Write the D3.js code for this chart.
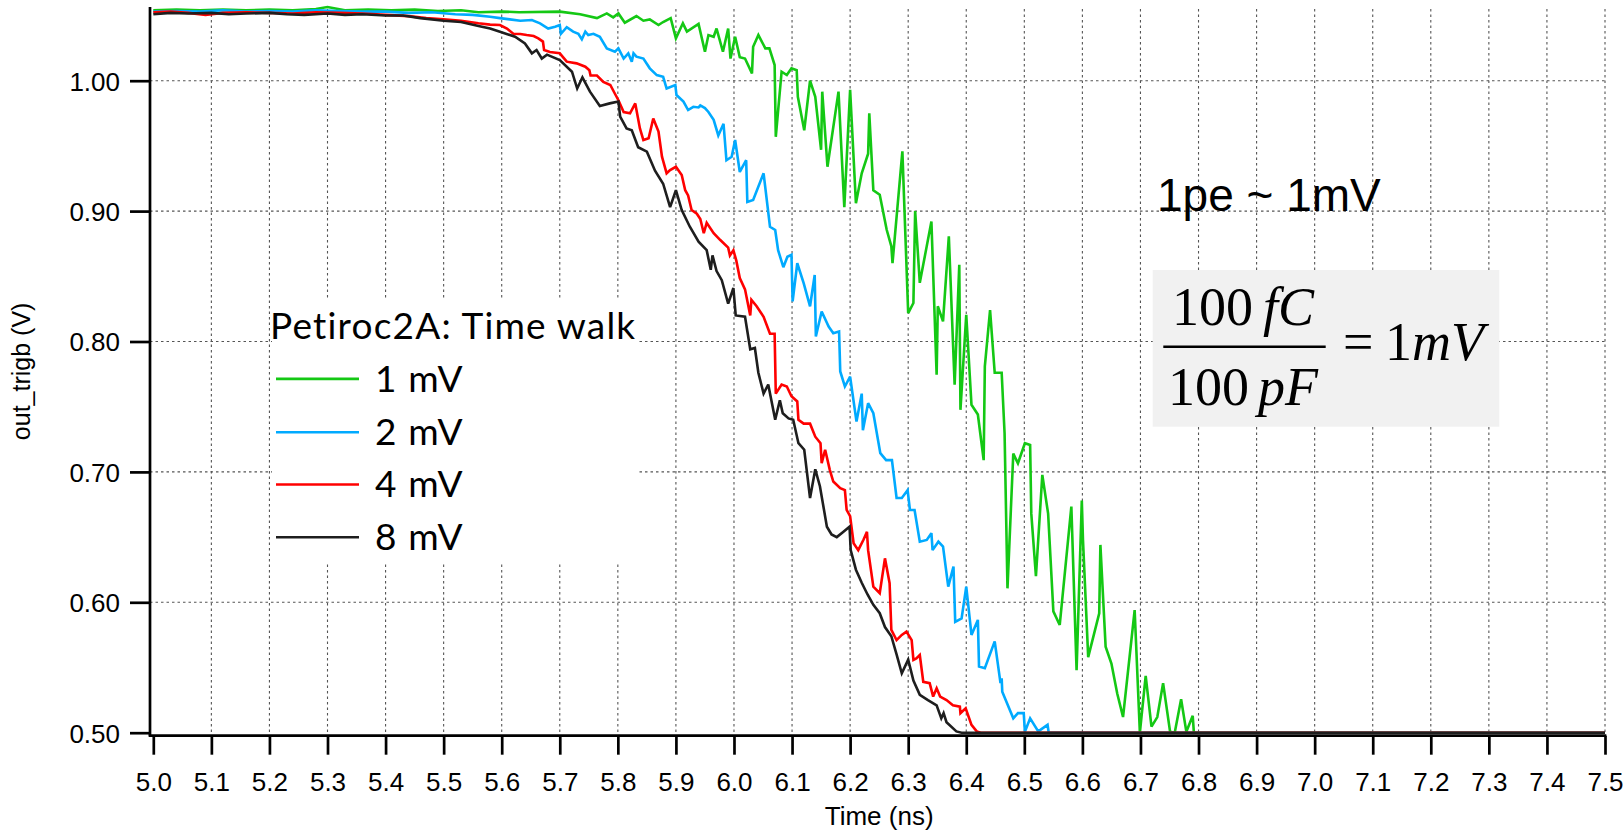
<!DOCTYPE html>
<html>
<head>
<meta charset="utf-8">
<script src="https://cdn.jsdelivr.net/npm/d3@7"></script>
<style>
  html, body { margin: 0; padding: 0; background: #fff; }
  svg { display: block; }
</style>
</head>
<body>
<script>
// ---------------- data ----------------
const seriesNames  = ["1 mV", "2 mV", "4 mV", "8 mV"];
const seriesColors = ["#14c814", "#00aaff", "#ff0000", "#1e1e1e"];
const legendTitle  = "Petiroc2A: Time walk";
const xTickValues  = [5.0, 5.1, 5.2, 5.3, 5.4, 5.5, 5.6, 5.7, 5.8, 5.9, 6.0, 6.1, 6.2,
                      6.3, 6.4, 6.5, 6.6, 6.7, 6.8, 6.9, 7.0, 7.1, 7.2, 7.3, 7.4, 7.5];
const yTickValues  = [0.50, 0.60, 0.70, 0.80, 0.90, 1.00];
const xAxisTitle   = "Time (ns)";
const yAxisTitle   = "out_trigb (V)";

// 1 mV input
const time1mV = [5.00,5.04,5.08,5.12,5.16,5.20,5.24,5.28,5.30,5.33,5.37,5.41,5.45,5.49,5.53,5.56,5.60,5.63,5.70,5.735,
  5.764,5.781,5.792,5.801,5.812,5.832,5.844,5.855,5.870,5.878,5.891,5.900,5.912,5.919,5.939,5.950,5.956,5.965,5.970,5.981,
  5.990,5.994,6.002,6.010,6.019,6.031,6.033,6.042,6.054,6.061,6.070,6.072,6.082,6.091,6.099,6.108,6.110,6.121,6.131,6.140,
  6.150,6.152,6.161,6.180,6.190,6.200,6.210,6.220,6.231,6.233,6.240,6.251,6.263,6.271,6.273,6.290,6.300,6.309,6.312,6.320,
  6.340,6.349,6.351,6.360,6.370,6.380,6.388,6.390,6.400,6.409,6.420,6.430,6.432,6.441,6.449,6.461,6.466,6.471,6.481,6.489,
  6.501,6.510,6.512,6.520,6.531,6.541,6.550,6.561,6.581,6.590,6.599,6.601,6.610,6.629,6.631,6.640,6.650,6.660,6.670,6.690,
  6.699,6.709,6.719,6.729,6.739,6.751,6.759,6.770,6.779,6.790,6.792,7.50];
const volt1mV = [1.054,1.0545,1.054,1.0545,1.054,1.0545,1.054,1.055,1.0565,1.054,1.0545,1.054,1.0545,1.0535,1.054,1.0525,1.053,1.0525,1.053,1.051,
  1.048,1.0516,1.0486,1.0516,1.0445,1.0496,1.046,1.047,1.0427,1.045,1.048,1.0325,1.044,1.0376,1.0435,1.0222,1.035,1.0337,1.040,1.0222,
  1.040,1.017,1.0337,1.018,1.017,1.0056,1.026,1.035,1.0248,1.0248,1.012,0.957,1.0069,1.0043,1.0095,1.008,0.9877,0.962,1.000,0.9877,
  0.947,0.9916,0.934,0.9916,0.903,0.993,0.906,0.929,0.944,0.975,0.916,0.9125,0.8857,0.873,0.860,0.9458,0.8218,0.8295,0.900,0.845,
  0.892,0.7745,0.827,0.8154,0.8806,0.7668,0.8588,0.7476,0.8205,0.7515,0.744,0.709,0.781,0.824,0.776,0.776,0.7296,0.6107,0.714,0.7066,
  0.722,0.7207,0.668,0.620,0.6977,0.668,0.593,0.5826,0.6734,0.548,0.678,0.648,0.558,0.5916,0.644,0.566,0.553,0.530,0.512,0.594,
  0.500,0.5435,0.5047,0.512,0.538,0.5008,0.500,0.5256,0.5008,0.513,0.500,0.500];

// 2 mV input
const time2mV = [5.00,5.04,5.08,5.12,5.16,5.20,5.24,5.28,5.32,5.36,5.40,5.44,5.48,5.52,5.55,5.58,5.597,5.614,5.632,5.652,
  5.666,5.680,5.692,5.700,5.702,5.712,5.723,5.732,5.738,5.744,5.749,5.758,5.769,5.781,5.795,5.801,5.810,5.818,5.824,5.827,
  5.832,5.844,5.855,5.867,5.878,5.884,5.899,5.901,5.913,5.921,5.930,5.939,5.942,5.950,5.956,5.965,5.973,5.982,5.987,5.996,
  6.002,6.010,6.021,6.023,6.033,6.051,6.062,6.071,6.076,6.085,6.092,6.099,6.101,6.109,6.120,6.131,6.139,6.141,6.151,6.163,
  6.171,6.181,6.183,6.191,6.200,6.211,6.220,6.222,6.231,6.240,6.252,6.262,6.272,6.280,6.289,6.299,6.303,6.311,6.320,6.332,
  6.340,6.342,6.352,6.360,6.369,6.378,6.381,6.392,6.400,6.409,6.420,6.422,6.432,6.449,6.459,6.461,6.462,6.481,6.489,6.499,
  6.501,6.510,6.524,6.540,6.542,7.50];
const volt2mV = [1.053,1.0535,1.053,1.054,1.053,1.0535,1.053,1.054,1.0535,1.053,1.053,1.052,1.0525,1.051,1.0505,1.049,1.048,1.047,1.046,1.0465,
  1.044,1.040,1.0414,1.0427,1.036,1.041,1.0376,1.036,1.0317,1.0376,1.035,1.036,1.0337,1.0248,1.0222,1.0248,1.017,1.021,1.0146,1.021,
  1.0184,1.017,1.0095,1.0043,1.003,0.994,0.9967,0.989,0.984,0.9775,0.980,0.9795,0.981,0.979,0.976,0.970,0.958,0.967,0.939,0.9417,
  0.9545,0.930,0.939,0.907,0.9085,0.929,0.888,0.8855,0.870,0.857,0.865,0.8665,0.8307,0.860,0.8447,0.827,0.851,0.8038,0.823,0.8115,
  0.8064,0.8077,0.777,0.7655,0.773,0.7386,0.760,0.732,0.7527,0.745,0.7144,0.709,0.709,0.680,0.680,0.686,0.6708,0.6708,0.6465,0.6478,
  0.653,0.640,0.6465,0.6427,0.612,0.6274,0.585,0.5877,0.612,0.575,0.5865,0.5507,0.5494,0.570,0.538,0.5417,0.5315,0.511,0.515,0.515,
  0.5008,0.511,0.501,0.506,0.500,0.500];

// 4 mV input
const time4mV = [5.00,5.03,5.06,5.09,5.12,5.16,5.20,5.24,5.28,5.32,5.36,5.40,5.44,5.47,5.50,5.53,5.56,5.58,5.597,5.609,
  5.620,5.632,5.643,5.655,5.663,5.671,5.673,5.683,5.700,5.712,5.729,5.744,5.751,5.753,5.764,5.775,5.787,5.795,5.801,5.810,
  5.821,5.830,5.838,5.844,5.853,5.861,5.870,5.876,5.884,5.890,5.900,5.910,5.916,5.921,5.927,5.936,5.942,5.948,5.953,5.965,
  5.976,5.990,5.993,5.999,6.004,6.010,6.019,6.028,6.030,6.039,6.051,6.062,6.070,6.072,6.082,6.091,6.099,6.109,6.111,6.120,
  6.131,6.140,6.149,6.151,6.157,6.165,6.171,6.183,6.191,6.194,6.200,6.206,6.214,6.223,6.229,6.231,6.240,6.251,6.260,6.268,
  6.271,6.280,6.289,6.297,6.306,6.309,6.314,6.320,6.326,6.337,6.343,6.349,6.355,6.366,6.377,6.389,6.390,6.399,6.409,6.418,
  6.425,7.50];
const volt4mV = [1.0525,1.053,1.052,1.0505,1.052,1.0525,1.052,1.0515,1.0525,1.052,1.0515,1.0505,1.0495,1.048,1.047,1.046,1.044,1.043,1.0427,1.040,
  1.036,1.0358,1.035,1.0343,1.0325,1.030,1.0235,1.022,1.021,1.0146,1.0133,1.0107,1.008,1.004,1.004,0.999,0.9967,0.990,0.985,0.976,
  0.975,0.9826,0.9634,0.9545,0.9558,0.971,0.961,0.9417,0.929,0.9315,0.934,0.9277,0.916,0.912,0.9008,0.898,0.894,0.883,0.891,0.883,
  0.878,0.872,0.866,0.870,0.862,0.8486,0.840,0.820,0.832,0.827,0.819,0.806,0.806,0.760,0.767,0.7655,0.758,0.754,0.740,0.737,
  0.737,0.727,0.722,0.7067,0.717,0.7016,0.6926,0.6875,0.686,0.6708,0.666,0.6453,0.640,0.648,0.654,0.640,0.612,0.607,0.6337,0.6146,
  0.5788,0.571,0.575,0.5775,0.571,0.5558,0.557,0.5596,0.539,0.538,0.5277,0.534,0.5277,0.525,0.521,0.520,0.515,0.5187,0.506,0.501,
  0.500,0.500];

// 8 mV input
const time8mV = [5.00,5.03,5.06,5.10,5.13,5.16,5.20,5.23,5.26,5.30,5.33,5.36,5.40,5.43,5.46,5.50,5.53,5.56,5.58,5.597,
  5.623,5.640,5.652,5.660,5.669,5.678,5.700,5.721,5.730,5.739,5.752,5.769,5.786,5.801,5.804,5.815,5.824,5.835,5.850,5.864,
  5.878,5.890,5.900,5.910,5.924,5.939,5.953,5.960,5.963,5.970,5.979,5.990,5.999,6.003,6.019,6.028,6.036,6.042,6.051,6.059,
  6.071,6.079,6.084,6.094,6.102,6.111,6.121,6.131,6.140,6.148,6.160,6.168,6.177,6.188,6.199,6.201,6.210,6.220,6.230,6.240,
  6.251,6.260,6.271,6.280,6.289,6.300,6.309,6.320,6.334,6.349,6.357,6.361,6.366,6.383,6.392,7.50];
const volt8mV = [1.051,1.052,1.0515,1.052,1.051,1.0515,1.052,1.051,1.0505,1.0515,1.0505,1.051,1.050,1.050,1.048,1.046,1.045,1.042,1.040,1.0376,
  1.0337,1.0286,1.021,1.0235,1.017,1.020,1.0158,1.0069,0.994,1.0026,0.9916,0.9806,0.9826,0.984,0.9724,0.9634,0.962,0.949,0.9456,0.931,
  0.921,0.903,0.916,0.9008,0.888,0.8765,0.870,0.855,0.866,0.854,0.847,0.829,0.841,0.820,0.819,0.794,0.795,0.776,0.760,0.767,
  0.740,0.755,0.745,0.741,0.740,0.722,0.717,0.680,0.702,0.689,0.658,0.652,0.650,0.654,0.658,0.640,0.625,0.615,0.606,0.598,
  0.5916,0.581,0.574,0.560,0.5456,0.556,0.540,0.529,0.525,0.521,0.511,0.515,0.508,0.501,0.500,0.500];

const seriesTimes = [time1mV, time2mV, time4mV, time8mV];
const seriesVolts = [volt1mV, volt2mV, volt4mV, volt8mV];

// ---------------- layout ----------------
const W = 1623, H = 836;
const axisLeftX = 150, axisBottomY = 735.7, plotTopY = 7;

const svg = d3.select("body").append("svg")
  .attr("width", W).attr("height", H)
  .attr("viewBox", `0 0 ${W} ${H}`);

const x = d3.scaleLinear().domain([5.0, 7.5]).range([153.3, 1605]);
const y = d3.scaleLinear().domain([0.5, 1.0]).range([732.7, 80.7]);

// ---------------- dotted grid ----------------
const grid = svg.append("g").attr("stroke", "#555").attr("stroke-width", 1.1)
  .attr("stroke-dasharray", "2.5,3").attr("fill", "none");
grid.selectAll("line.v").data(xTickValues.filter(d => d > 5.0)).join("line")
  .attr("class", "v")
  .attr("x1", d => x(d)).attr("x2", d => x(d))
  .attr("y1", plotTopY + 2).attr("y2", y(0.5));
grid.selectAll("line.h").data(yTickValues.filter(d => d > 0.5)).join("line")
  .attr("class", "h")
  .attr("x1", axisLeftX).attr("x2", x(7.5))
  .attr("y1", d => y(d)).attr("y2", d => y(d));

// ---------------- axes ----------------
const tickFont = "'Liberation Sans', Arial, sans-serif";

const yAxis = svg.append("g")
  .attr("transform", `translate(${axisLeftX},0)`)
  .call(d3.axisLeft(y).tickValues(yTickValues).tickSize(20).tickPadding(10)
        .tickFormat(d3.format(".2f")));
yAxis.select(".domain").remove();
yAxis.selectAll(".tick line").attr("stroke", "#000").attr("stroke-width", 2.7);
yAxis.selectAll(".tick text").attr("font-family", tickFont).attr("font-size", 26)
  .attr("fill", "#000").attr("dy", "0.36em");

const xAxis = svg.append("g")
  .attr("transform", `translate(0,${axisBottomY})`)
  .call(d3.axisBottom(x).tickValues(xTickValues).tickSize(19).tickPadding(17.5)
        .tickFormat(d3.format(".1f")));
xAxis.select(".domain").remove();
xAxis.selectAll(".tick line").attr("stroke", "#000").attr("stroke-width", 2.7);
xAxis.selectAll(".tick text").attr("font-family", tickFont).attr("font-size", 26)
  .attr("fill", "#000");

// axis lines (offset slightly from the data range, Igor-style)
svg.append("line").attr("x1", axisLeftX).attr("x2", axisLeftX)
  .attr("y1", plotTopY).attr("y2", axisBottomY)
  .attr("stroke", "#000").attr("stroke-width", 2.7);
svg.append("line").attr("x1", axisLeftX - 1.35).attr("x2", x(7.5) + 1.35)
  .attr("y1", axisBottomY).attr("y2", axisBottomY)
  .attr("stroke", "#000").attr("stroke-width", 2.7);

// axis titles
svg.append("text")
  .attr("x", (x(5.0) + x(7.5)) / 2).attr("y", 825)
  .attr("text-anchor", "middle")
  .attr("font-family", tickFont).attr("font-size", 26).attr("fill", "#000")
  .text(xAxisTitle);
svg.append("text")
  .attr("transform", `translate(30,${(plotTopY + axisBottomY) / 2}) rotate(-90)`)
  .attr("text-anchor", "middle")
  .attr("font-family", tickFont).attr("font-size", 25).attr("fill", "#000")
  .text(yAxisTitle);

// ---------------- legend ----------------
const legendFont = "Lato, 'Open Sans', sans-serif";
const legend = svg.append("g");
legend.append("rect").attr("x", 272).attr("y", 298).attr("width", 366).attr("height", 265)
  .attr("fill", "#fff");
legend.append("text").attr("x", 270).attr("y", 339)
  .attr("font-family", legendFont).attr("font-size", 37).attr("letter-spacing", 1.2)
  .attr("fill", "#000")
  .text(legendTitle);
const entryBaselines = [391.7, 445, 497.3, 550];
seriesNames.forEach((name, i) => {
  legend.append("line")
    .attr("x1", 276).attr("x2", 359)
    .attr("y1", entryBaselines[i] - 12.8).attr("y2", entryBaselines[i] - 12.8)
    .attr("stroke", seriesColors[i]).attr("stroke-width", 2.6);
  legend.append("text").attr("x", 375).attr("y", entryBaselines[i])
    .attr("font-family", legendFont).attr("font-size", 37).attr("letter-spacing", 1.2)
    .attr("fill", "#000")
    .text(name);
});

// ---------------- annotations ----------------
svg.append("text").attr("x", 1157).attr("y", 211)
  .attr("font-family", tickFont).attr("font-size", 46).attr("fill", "#000")
  .text("1pe ~ 1mV");

const eq = svg.append("g");
const serif = "'Liberation Serif', 'Times New Roman', serif";
eq.append("rect").attr("x", 1152.7).attr("y", 270).attr("width", 346.6).attr("height", 156.7)
  .attr("fill", "#f1f1f1");
const num = eq.append("text").attr("x", 1243).attr("y", 325).attr("text-anchor", "middle")
  .attr("font-family", serif).attr("font-size", 54).attr("fill", "#000");
num.append("tspan").text("100");
num.append("tspan").attr("dx", 10).attr("font-style", "italic").text("fC");
eq.append("line").attr("x1", 1163.3).attr("x2", 1325.7).attr("y1", 346.7).attr("y2", 346.7)
  .attr("stroke", "#000").attr("stroke-width", 2.5);
const den = eq.append("text").attr("x", 1243).attr("y", 405).attr("text-anchor", "middle")
  .attr("font-family", serif).attr("font-size", 54).attr("fill", "#000");
den.append("tspan").text("100");
den.append("tspan").attr("dx", 9).attr("font-style", "italic").text("pF");
eq.append("text").attr("x", 1343).attr("y", 360)
  .attr("font-family", serif).attr("font-size", 54).attr("fill", "#000").text("=");
const rhs = eq.append("text").attr("x", 1385).attr("y", 360)
  .attr("font-family", serif).attr("font-size", 54).attr("fill", "#000");
rhs.append("tspan").text("1");
rhs.append("tspan").attr("font-style", "italic").text("mV");

// ---------------- traces ----------------
const line = d3.line().x(d => x(d[0])).y(d => y(d[1]));
const traces = svg.append("g").attr("fill", "none").attr("stroke-width", 2.6)
  .attr("stroke-linejoin", "miter").attr("stroke-miterlimit", 3);
seriesNames.forEach((name, i) => {
  const pts = seriesTimes[i].map((t, k) => [t, seriesVolts[i][k]]);
  traces.append("path").datum(pts)
    .attr("stroke", seriesColors[i])
    .attr("d", line);
});
</script>
</body>
</html>
